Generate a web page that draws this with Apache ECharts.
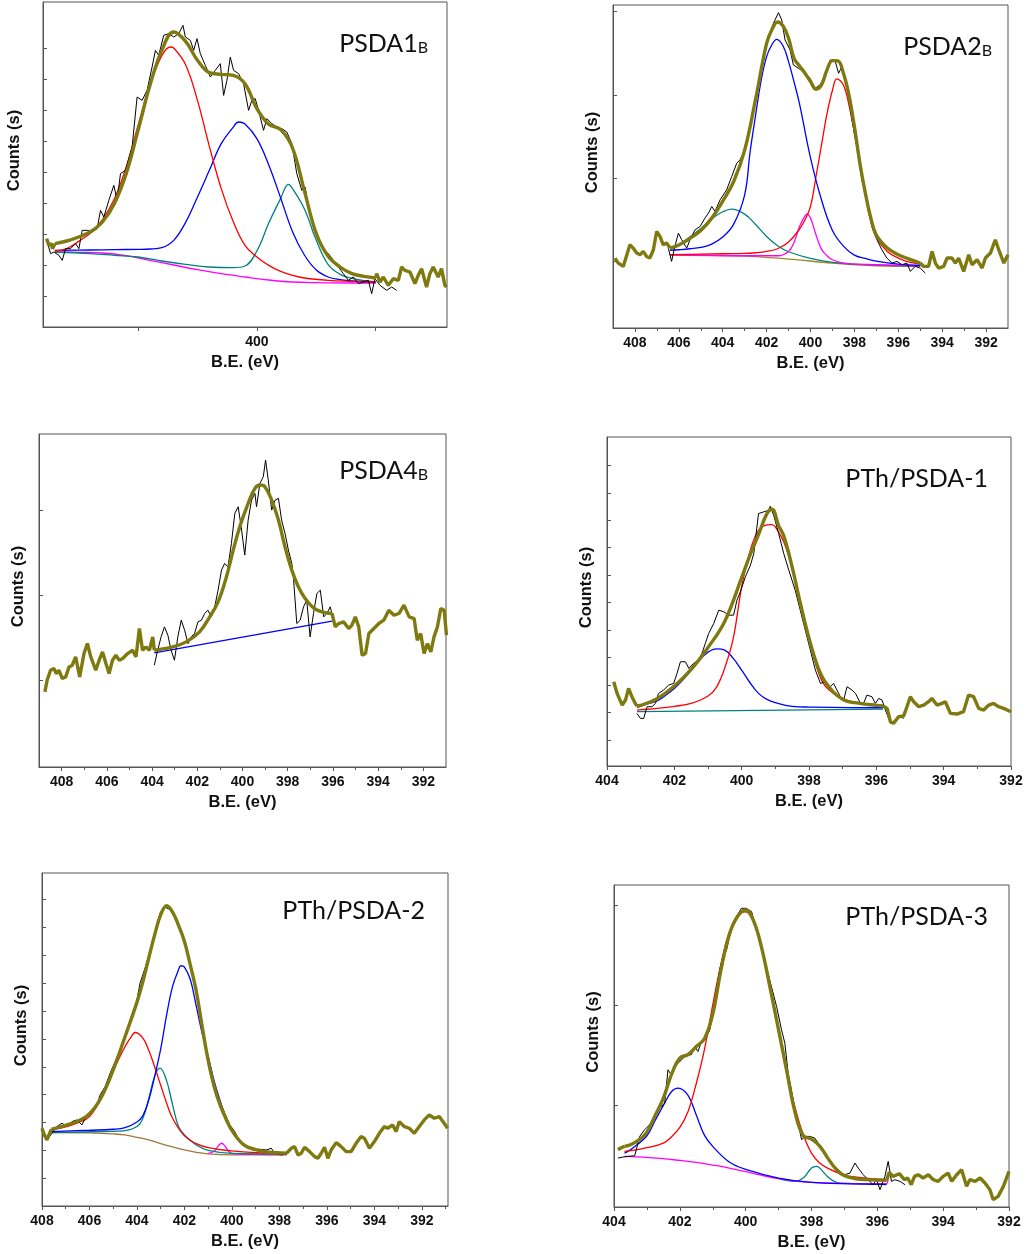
<!DOCTYPE html>
<html>
<head>
<meta charset="utf-8">
<script src="https://cdn.jsdelivr.net/npm/echarts@6/dist/echarts.min.js"></script>
<style>
html, body { margin: 0; padding: 0; background: #fff; }
#main { width: 1027px; height: 1254px; }
</style>
</head>
<body>
<div id="main"></div>
<script>
// N 1s spectra, six samples. x = binding energy (eV), y = counts (arbitrary units)

// ---- PSDA1B ----
var p1Raw = [[408.82,25.5],[408.68,22.0],[408.54,22.5],[408.33,21.5],[408.19,20.0],[408.05,23.5],[407.84,23.5],[407.63,25.0],[407.49,23.5],[407.35,29.0],[407.14,29.0],[406.93,28.5],[406.72,29.5],[406.58,35.0],[406.44,33.0],[406.23,38.0],[406.02,42.5],[405.88,38.0],[405.74,46.0],[405.53,47.0],[405.25,54.0],[405.04,69.0],[404.83,68.0],[404.62,71.0],[404.41,78.0],[404.27,83.0],[404.13,81.5],[403.92,87.5],[403.71,88.0],[403.5,87.0],[403.29,88.0],[403.11,90.5],[403.01,87.0],[402.8,86.0],[402.66,83.0],[402.52,86.5],[402.38,82.0],[402.17,78.5],[401.96,75.0],[401.75,77.0],[401.54,79.0],[401.4,69.5],[401.26,74.0],[401.12,81.0],[400.98,77.0],[400.77,76.0],[400.56,73.0],[400.35,65.0],[400.21,68.0],[400.07,68.5],[399.93,65.0],[399.72,59.0],[399.58,62.5],[399.37,61.0],[399.16,60.0],[398.95,59.5],[398.74,58.5],[398.53,55.0],[398.32,46.0],[398.11,41.0],[397.97,42.0],[397.83,36.0],[397.62,30.0],[397.41,26.0],[397.2,23.0],[396.99,22.0],[396.78,20.0],[396.57,18.0],[396.36,16.0],[396.15,14.0],[395.94,15.0],[395.73,13.0],[395.52,13.5],[395.31,14.0],[395.17,10.0],[395.03,14.5],[394.82,12.5],[394.54,11.0],[394.33,12.0],[394.12,11.0]];
var p1Env = [[408.5,25.0],[408,25.8],[407.5,27.0],[407,28.6],[406.5,31.5],[406,37.0],[405.5,46.0],[405,59.0],[404.5,72.5],[404,83.0],[403.5,88.5],[403,85.7],[402.5,80.0],[402,76.3],[401.5,75.8],[401,75.5],[400.5,73.0],[400,65.5],[399.5,60.8],[399,59.2],[398.5,53.7],[398,40.8],[397.5,28.0],[397,21.2],[396.5,18.0],[396,16.0],[395.5,15.2],[395,14.7]];
var p1TailL = [[408.85,26.5],[408.75,24.5],[408.65,25.0],[408.6,23.5],[408.5,25.0]];
var p1TailR = [[395,14.7],[394.96,16.0],[394.82,13.5],[394.68,15.0],[394.47,12.5],[394.26,14.5],[394.05,14.0],[393.91,18.0],[393.77,17.0],[393.56,16.5],[393.35,13.0],[393.21,15.5],[393.07,17.5],[392.86,12.0],[392.72,16.0],[392.58,18.0],[392.37,15.0],[392.23,17.5],[392.09,12.5],[392.02,12.0]];
var p1Red = [[408.5,22.8],[408,23.5],[407.5,25.7],[407,28.2],[406.5,32.2],[406,38.4],[405.5,48.0],[405,60.5],[404.5,72.5],[404,81.4],[403.64,84.0],[403.5,83.7],[403,78.7],[402.5,68.0],[402,54.2],[401.5,41.5],[401,31.7],[400.5,24.5],[400,21.0],[399.5,18.5],[399,16.7],[398.5,15.5],[398,14.7],[397,14.0],[396,13.7],[395,13.5]];
var p1Blue = [[408.5,23.0],[407,23.1],[406,23.2],[405,23.3],[404.5,23.4],[404,23.8],[403.5,26.0],[403,31.4],[402.5,39.0],[402,47.0],[401.5,55.0],[401,59.9],[400.77,61.5],[400.5,60.9],[400,56.5],[399.5,48.6],[399,38.7],[398.5,28.6],[398,21.6],[397.5,17.1],[397,15.0],[396.5,14.2],[396,13.8],[395,13.5]];
var p1Teal = [[408.5,22.5],[407,22.0],[406,21.5],[405,21.0],[404,19.8],[403,18.8],[402,18.0],[401,17.8],[400.5,18.3],[400,22.8],[399.5,31.2],[399,38.6],[398.67,42.8],[398.5,41.5],[398,35.4],[397.5,26.0],[397,18.7],[396.5,15.8],[396,14.6],[395,13.5]];
var p1Mag = [[408.5,22.5],[407.5,22.4],[406.5,22.2],[405.5,21.4],[404.5,20.0],[403.5,18.6],[402.5,17.2],[401.5,16.0],[400.5,15.0],[399.5,14.1],[398.5,13.5],[397.5,13.3],[396,13.2],[395,13.2]];

// ---- PSDA2B ----
var p2Raw = [[406.48,24.0],[406.33,20.0],[406.18,24.5],[406.02,28.5],[405.87,26.5],[405.64,24.0],[405.49,26.5],[405.26,29.5],[405.03,30.5],[404.81,33.0],[404.65,34.5],[404.5,36.5],[404.35,35.0],[404.12,38.5],[403.82,41.5],[403.59,45.5],[403.36,49.5],[403.21,50.5],[403.06,52.5],[402.83,58.5],[402.6,65.5],[402.37,73.5],[402.15,80.5],[401.92,87.5],[401.69,91.5],[401.46,94.7],[401.31,92.5],[401.16,86.5],[400.93,83.5],[400.78,79.0],[400.55,78.0],[400.32,77.0],[400.02,75.0],[399.79,72.0],[399.56,73.0],[399.33,76.0],[399.1,80.5],[398.87,80.0],[398.72,76.5],[398.57,78.5],[398.34,72.5],[398.11,62.5],[397.89,54.5],[397.66,44.5],[397.43,38.5],[397.2,30.5],[396.97,26.5],[396.75,23.5],[396.52,21.0],[396.29,19.5],[396.06,20.0],[395.83,19.0],[395.61,19.5],[395.45,17.0],[395.23,18.5],[395.0,18.0],[394.77,16.5]];
var p2Env = [[406.4,24.0],[406,24.9],[405.5,26.9],[405,29.3],[404.5,33.0],[404,38.1],[403.5,44.0],[403,53.4],[402.5,68.8],[402,85.5],[401.75,89.7],[401.5,91.9],[401.25,90.7],[401,87.0],[400.75,81.0],[400.5,78.7],[400.25,76.5],[400,74.0],[399.75,71.7],[399.5,73.0],[399.25,77.5],[399,80.3],[398.75,80.2],[398.5,76.5],[398.25,70.0],[398,60.5],[397.75,49.5],[397.5,40.5],[397.25,33.0],[397,27.9],[396.5,24.0],[396,22.0],[395.5,20.7],[395,19.5]];
var p2TailL = [[408.91,21.0],[408.76,19.5],[408.53,18.5],[408.23,25.0],[408.08,24.0],[407.92,22.5],[407.77,22.0],[407.62,23.0],[407.47,21.5],[407.32,21.0],[407.16,23.5],[407.01,29.0],[406.86,27.5],[406.71,25.0],[406.56,25.5],[406.4,24.0]];
var p2TailR = [[395.0,19.5],[394.84,18.5],[394.62,18.5],[394.46,23.0],[394.31,19.5],[394.16,18.0],[393.93,18.5],[393.78,21.0],[393.55,21.0],[393.4,19.5],[393.25,21.0],[393.02,17.0],[392.79,22.0],[392.64,19.0],[392.41,20.5],[392.18,18.0],[392.03,21.0],[391.8,22.5],[391.58,26.5],[391.42,23.5],[391.19,19.5],[391.0,22.0]];
var p2Blue = [[406.4,23.3],[406,23.5],[405.5,23.8],[405,24.2],[404.5,25.2],[404,27.3],[403.5,31.2],[403,40.0],[402.75,53.0],[402.5,64.0],[402.25,74.3],[402,81.5],[401.75,85.2],[401.54,86.7],[401.25,84.7],[401,80.0],[400.75,73.9],[400.5,67.3],[400,51.1],[399.5,38.5],[399,29.3],[398.5,24.6],[398,21.9],[397.5,20.9],[397,20.1],[396,19.2],[395,18.8]];
var p2Red = [[406.4,22.0],[405,22.2],[404,22.3],[403,22.4],[402.5,22.6],[402,23.0],[401.5,23.8],[401,25.8],[400.5,29.7],[400.25,32.5],[400,36.5],[399.75,45.5],[399.5,54.9],[399.25,64.3],[399,71.4],[398.8,74.8],[398.5,73.0],[398.25,67.0],[398,58.6],[397.75,49.1],[397.5,40.0],[397.25,31.9],[397,27.1],[396.5,23.0],[396,21.0],[395.5,19.8],[395,19.2]];
var p2Mag = [[406.4,22.0],[403,21.7],[401.5,21.7],[401,23.0],[400.75,25.7],[400.5,30.5],[400.25,33.7],[400.15,34.2],[400,33.0],[399.75,28.0],[399.5,23.7],[399.25,21.7],[399,20.5],[398.5,19.5],[397,19.0],[395,18.7]];
var p2Teal = [[406.4,23.5],[406,25.0],[405.5,27.3],[405,29.9],[404.5,32.8],[404,34.9],[403.6,35.7],[403,34.2],[402.5,31.1],[402,27.5],[401.5,24.7],[401,22.9],[400,20.9],[399,19.7],[398,19.2],[396.5,18.8],[395,18.7]];
var p2Base = [[406.4,22.0],[403,21.6],[401,20.7],[399,19.5],[397,18.7],[395,18.5]];

// ---- PSDA4B ----
var p3Raw = [[403.9,30.5],[403.75,35.0],[403.6,39.0],[403.45,42.0],[403.3,39.5],[403.16,35.0],[403.01,32.0],[402.86,39.0],[402.71,44.0],[402.56,41.0],[402.41,37.0],[402.27,39.0],[402.12,40.0],[401.97,43.5],[401.82,44.0],[401.67,46.0],[401.53,47.0],[401.38,45.0],[401.23,48.0],[401.08,53.0],[400.93,59.0],[400.79,61.0],[400.64,60.0],[400.49,67.0],[400.34,76.0],[400.19,78.0],[400.04,71.0],[399.9,63.5],[399.75,74.0],[399.6,80.0],[399.45,82.0],[399.38,78.0],[399.23,85.0],[399.08,87.0],[398.98,92.0],[398.86,86.0],[398.71,77.0],[398.56,80.0],[398.41,80.5],[398.27,74.0],[398.12,70.0],[397.97,65.0],[397.82,61.0],[397.75,57.0],[397.6,43.0],[397.45,44.0],[397.3,48.0],[397.16,50.0],[397.01,39.0],[396.86,46.0],[396.71,52.0],[396.56,53.0],[396.41,45.0],[396.27,46.0],[396.12,48.0],[395.97,44.0]];
var p3Env = [[403.9,35.0],[403.08,36.0],[402.49,37.5],[401.9,40.5],[401.45,45.0],[401.08,49.5],[400.71,57.0],[400.41,65.0],[400.12,72.0],[399.75,79.0],[399.45,83.5],[399.23,84.5],[399.01,84.0],[398.71,80.0],[398.41,74.0],[398.12,66.0],[397.82,59.0],[397.53,54.0],[397.23,50.5],[396.86,47.7],[396.49,46.5],[396.04,46.0]];
var p3TailL = [[408.74,22.5],[408.64,26.0],[408.49,29.0],[408.34,29.5],[408.24,28.0],[408.12,29.0],[407.97,26.5],[407.82,27.0],[407.67,30.0],[407.53,30.5],[407.38,33.0],[407.2,27.0],[407.01,34.0],[406.86,37.0],[406.71,33.0],[406.49,29.0],[406.34,32.0],[406.19,34.5],[406.04,31.0],[405.9,28.0],[405.75,32.0],[405.6,33.5],[405.45,32.0],[405.3,32.5],[405.08,34.0],[404.86,35.0],[404.71,33.0],[404.56,41.5],[404.42,35.0],[404.27,36.0],[404.12,35.0],[403.97,39.0],[403.9,35.0]];
var p3TailR = [[396.04,46.0],[395.9,42.0],[395.75,43.0],[395.53,43.5],[395.3,41.5],[395.16,42.5],[395.01,45.0],[394.86,42.0],[394.71,33.5],[394.56,34.0],[394.41,40.0],[394.19,41.5],[393.97,43.0],[393.75,44.0],[393.53,47.0],[393.3,45.5],[393.08,46.0],[392.86,48.5],[392.63,45.0],[392.41,44.5],[392.27,38.0],[392.12,40.0],[391.97,34.0],[391.82,37.0],[391.67,34.5],[391.53,39.0],[391.38,42.0],[391.23,47.5],[391.08,47.0],[390.98,39.5]];
var p3Base = [[403.9,34.2],[396.04,43.7]];

// ---- PTh/PSDA-1 ----
var p4Raw = [[403.11,15.8],[403.01,14.3],[402.91,14.3],[402.81,17.8],[402.66,17.8],[402.56,18.8],[402.47,21.8],[402.32,22.8],[402.17,24.3],[402.02,24.8],[401.92,27.8],[401.82,31.3],[401.67,31.3],[401.57,29.3],[401.43,30.8],[401.28,31.8],[401.18,33.8],[401.08,36.8],[400.98,39.8],[400.83,42.8],[400.68,46.8],[400.53,46.3],[400.39,45.3],[400.24,45.3],[400.14,49.8],[400.04,52.3],[399.89,56.8],[399.74,60.3],[399.64,63.8],[399.5,75.8],[399.35,76.3],[399.2,76.8],[399.15,78.0],[399.05,75.3],[398.9,69.8],[398.75,63.8],[398.6,58.8],[398.41,52.8],[398.26,46.8],[398.11,40.8],[397.96,34.8],[397.81,28.8],[397.66,24.8],[397.52,25.3],[397.37,23.8],[397.27,24.8],[397.17,22.8],[397.07,20.8],[396.97,19.8],[396.87,23.8],[396.72,22.8],[396.62,21.8],[396.47,18.8],[396.38,18.8],[396.28,21.3],[396.13,20.8],[396.03,18.8],[395.93,20.3],[395.83,19.8],[395.73,16.8],[395.58,12.8],[395.44,13.8],[395.29,14.8],[395.19,14.3]];
var p4Env = [[403.11,18.0],[403,18.2],[402.5,20.3],[402,24.0],[401.5,29.0],[401,35.6],[400.5,43.5],[400,56.6],[399.75,63.4],[399.5,69.5],[399.25,75.8],[399.1,77.1],[398.9,72.1],[398.75,69.1],[398.5,59.7],[398.25,48.6],[398,38.4],[397.75,30.1],[397.5,25.0],[397,20.0],[396.5,18.8],[396,18.2],[395.8,18.0]];
var p4TailL = [[403.8,25.3],[403.7,21.8],[403.55,18.3],[403.45,19.8],[403.36,23.3],[403.26,20.8],[403.16,18.8],[403.11,18.0]];
var p4TailR = [[395.8,18.0],[395.68,17.3],[395.58,13.3],[395.49,12.8],[395.34,14.8],[395.19,15.0],[395.09,17.8],[394.99,20.8],[394.89,19.3],[394.74,17.8],[394.59,18.3],[394.45,19.3],[394.35,20.3],[394.2,18.3],[394.05,18.8],[393.95,19.3],[393.8,15.8],[393.6,15.6],[393.41,16.3],[393.26,21.3],[393.11,20.8],[392.96,17.3],[392.81,16.8],[392.66,18.3],[392.52,18.8],[392.37,17.8],[392.22,17.3],[392.0,16.3]];
var p4Red = [[403.11,16.8],[403,16.9],[402.5,17.3],[402,17.9],[401.5,18.8],[401,21.0],[400.75,23.6],[400.5,29.5],[400.25,38.3],[400,53.8],[399.75,64.6],[399.5,70.8],[399.25,72.4],[399.1,72.5],[399,71.8],[398.75,67.3],[398.5,59.6],[398.25,48.3],[398,38.8],[397.75,29.0],[397.5,23.8],[397,20.3],[396.5,18.8],[396,18.2],[395.8,18.0]];
var p4Blue = [[403.11,17.6],[402.75,18.8],[402.5,19.6],[402.25,21.3],[402,23.3],[401.75,25.8],[401.5,28.8],[401.25,31.8],[401,34.2],[400.75,35.2],[400.5,34.8],[400.25,32.3],[400,28.8],[399.75,25.0],[399.5,21.8],[399.25,20.0],[399,19.0],[398.5,17.9],[398,17.7],[396,17.5],[395.8,17.5]];
var p4Base = [[403.11,16.3],[395.8,17.1]];

// ---- PTh/PSDA-2 ----
var p5Raw = [[407.93,20.8],[407.79,19.8],[407.58,21.8],[407.37,23.8],[407.16,24.8],[406.95,23.8],[406.74,25.3],[406.53,25.8],[406.32,24.3],[406.11,27.3],[405.9,28.8],[405.69,30.3],[405.55,33.3],[405.34,35.8],[405.13,39.8],[404.92,43.3],[404.71,46.8],[404.5,50.3],[404.29,54.8],[404.08,58.8],[403.87,66.8],[403.66,71.3],[403.45,76.3],[403.24,80.8],[403.03,87.8],[402.82,89.6],[402.61,88.8],[402.4,86.8],[402.19,82.8],[401.98,78.8],[401.77,72.3],[401.56,66.3],[401.35,57.8],[401.14,49.3],[400.93,40.8],[400.72,34.8],[400.51,31.3],[400.3,27.8],[400.09,24.3],[399.88,22.3],[399.67,19.3],[399.39,17.8],[399.11,16.8],[398.83,17.0],[398.55,16.8],[398.34,17.3],[398.2,15.8],[397.92,15.3],[397.71,15.6]];
var p5Env = [[407.6,23.0],[407.5,23.2],[407,24.2],[406.5,25.4],[406,27.6],[405.5,32.6],[405,40.8],[404.5,50.8],[404,61.1],[403.75,67.3],[403.5,74.4],[403.25,81.4],[403,87.3],[402.75,90.0],[402.5,88.1],[402.25,84.1],[402,79.3],[401.75,72.1],[401.5,64.3],[401.25,53.6],[401,43.6],[400.75,35.8],[400.5,30.3],[400.25,26.1],[400,22.6],[399.5,18.3],[399,16.9],[398.5,16.2],[397.7,15.8]];
var p5TailL = [[408.0,23.3],[407.93,21.8],[407.79,19.8],[407.65,22.3],[407.6,23.0]];
var p5TailR = [[397.7,15.8],[397.5,17.3],[397.36,17.8],[397.22,15.3],[397.08,15.8],[396.94,17.6],[396.73,16.3],[396.52,14.8],[396.38,14.3],[396.24,15.8],[396.1,17.6],[395.96,14.3],[395.82,16.8],[395.61,19.0],[395.4,17.8],[395.19,16.3],[394.98,16.3],[394.77,18.8],[394.56,20.8],[394.42,20.3],[394.21,17.3],[394.0,19.3],[393.79,21.8],[393.58,23.8],[393.44,23.3],[393.23,24.3],[393.09,22.3],[392.95,25.3],[392.74,23.8],[392.53,23.3],[392.32,21.8],[392.11,23.8],[391.9,25.8],[391.69,27.3],[391.48,26.3],[391.27,26.8],[391.06,24.8],[390.92,23.3]];
var p5Red = [[407.6,22.8],[407,23.7],[406.5,24.9],[406,26.8],[405.5,32.5],[405,40.5],[404.5,47.8],[404.25,50.6],[404.08,52.0],[403.75,50.3],[403.5,46.6],[403.25,41.6],[403,36.2],[402.75,30.8],[402.5,26.3],[402,21.0],[401.5,18.7],[401,17.5],[400,16.5],[399,16.0],[397.7,15.8]];
var p5Blue = [[407.6,22.3],[406,22.7],[405,23.0],[404.5,23.5],[404,25.2],[403.75,27.1],[403.5,31.8],[403.25,39.0],[403,47.1],[402.75,57.3],[402.5,65.8],[402.25,70.8],[402.15,72.0],[402,71.6],[401.75,67.8],[401.5,59.8],[401.25,51.6],[401,44.8],[400.75,37.5],[400.5,31.6],[400.25,26.2],[400,22.5],[399.5,18.6],[399,17.0],[398.5,16.3],[397.7,15.8]];
var p5Teal = [[407.6,22.0],[405,22.4],[404.5,22.6],[404,23.8],[403.75,26.3],[403.5,32.3],[403.25,39.0],[403.03,41.3],[402.75,37.5],[402.5,30.3],[402.25,23.8],[402,21.3],[401.5,18.3],[401,16.7],[400,15.8],[397.7,15.6]];
var p5Mag = [[401,15.8],[400.75,16.4],[400.55,18.2],[400.43,18.8],[400.3,18.0],[400.1,16.1],[399.9,15.6],[397.7,15.4]];
var p5Base = [[407.6,22.0],[406,21.9],[405,21.6],[404.5,21.3],[404,20.6],[403.5,19.8],[403,18.7],[402.5,17.7],[402,16.8],[401.5,16.1],[401,15.6],[400,15.3],[397.7,15.3]];

// ---- PTh/PSDA-3 ----
var p6Raw = [[403.88,14.7],[403.73,15.0],[403.57,15.2],[403.37,15.4],[403.22,21.2],[403.07,23.2],[402.92,24.7],[402.76,27.2],[402.61,29.7],[402.46,31.2],[402.36,41.2],[402.26,39.7],[402.1,42.7],[401.95,44.2],[401.8,45.7],[401.65,45.7],[401.55,48.2],[401.45,46.7],[401.34,49.7],[401.24,50.2],[401.09,53.2],[400.99,58.2],[400.89,65.2],[400.79,71.2],[400.69,75.2],[400.58,77.2],[400.48,81.7],[400.38,85.2],[400.28,87.2],[400.13,89.7],[399.98,89.7],[399.82,88.7],[399.67,83.2],[399.57,79.2],[399.42,74.2],[399.27,68.2],[399.06,60.2],[398.91,53.2],[398.81,49.2],[398.71,40.2],[398.61,35.2],[398.51,29.2],[398.41,25.2],[398.3,20.2],[398.2,21.2],[398.05,21.2],[397.9,20.7],[397.8,19.2],[397.7,17.7],[397.54,15.2],[397.39,13.2],[397.24,11.7],[397.09,10.2],[396.99,9.7],[396.83,10.2],[396.68,13.2],[396.58,11.7],[396.43,9.7],[396.28,8.2],[396.13,6.7],[396.02,8.2],[395.92,5.2],[395.77,9.2],[395.67,13.7],[395.57,7.7],[395.47,8.2],[395.31,7.7],[395.16,6.7]];
var p6Env = [[403.68,18.2],[403.5,18.7],[403.25,20.1],[403,22.5],[402.75,27.5],[402.5,32.7],[402.25,39.9],[402,44.7],[401.75,45.8],[401.5,48.2],[401.25,50.6],[401,57.9],[400.75,71.2],[400.5,81.7],[400.25,87.2],[400,89.2],[399.75,85.7],[399.5,77.2],[399.25,65.4],[399,53.2],[398.75,40.7],[398.5,28.4],[398.25,21.4],[398,20.4],[397.75,18.3],[397.5,14.6],[397.25,11.3],[397,9.4],[396.5,8.3],[396,8.1],[395.72,8.0]];
var p6TailL = [[403.88,17.2],[403.78,17.8],[403.68,18.2]];
var p6TailR = [[395.72,8.0],[395.64,10.4],[395.52,9.2],[395.33,10.0],[395.18,8.2],[395.08,8.7],[394.97,6.7],[394.87,9.2],[394.76,9.7],[394.61,8.7],[394.45,9.7],[394.3,8.2],[394.15,7.7],[394.0,9.2],[393.85,10.2],[393.74,7.7],[393.59,9.7],[393.44,11.2],[393.29,6.2],[393.19,8.2],[393.03,7.7],[392.88,8.7],[392.73,7.2],[392.58,5.2],[392.48,2.2],[392.33,3.2],[392.17,6.2],[392.0,10.7]];
var p6Red = [[403.68,16.7],[403.5,16.9],[403,17.8],[402.5,19.2],[402.25,21.1],[402,23.9],[401.75,28.7],[401.5,37.1],[401.25,47.4],[401,60.7],[400.75,73.0],[400.5,82.5],[400.25,87.6],[400,88.6],[399.75,85.4],[399.5,77.4],[399.25,65.9],[399,52.7],[398.75,40.5],[398.5,29.9],[398.25,21.7],[398,16.2],[397.75,13.2],[397.5,11.6],[397,9.6],[396.5,8.8],[396,8.4],[395.72,8.2]];
var p6Blue = [[403.68,16.2],[403.5,17.2],[403,21.4],[402.75,26.0],[402.5,30.5],[402.25,34.7],[402.05,35.7],[401.75,33.5],[401.5,27.6],[401.25,21.5],[401,18.2],[400.5,13.5],[400,11.3],[399,8.7],[398,7.4],[396,6.8],[395.72,6.7]];
var p6Teal = [[399,8.5],[398.5,7.7],[398.25,8.7],[398,11.7],[397.85,12.2],[397.75,11.7],[397.5,9.0],[397.25,7.4],[397,7.1],[395.72,7.0]];
var p6Mag = [[403.68,15.2],[403,14.9],[402,14.0],[401.5,13.4],[401,12.6],[400.5,11.7],[400,10.6],[399.5,9.5],[399,8.5],[398.5,7.8],[398,7.4],[397,7.1],[396,6.9],[395.72,7.0],[395.68,8.7]];

var OLIVE = '#7f7a10', RED = '#ff0000', BLUE = '#0000ff', TEAL = '#008080', MAG = '#ff00ff';

function range(a, b, s) { var r = []; for (var v = a; v <= b + 1e-9; v += s) r.push(v); return r; }

var panels = [
  { box: [43, 2, 404, 325], x: [392, 409], ymax: 97.5, yt: range(9.2, 84, 9.29),
    labels: [400], major: [395, 400, 405], minor: [], gap: 20, title: ['PSDA1', 'B'], tr: 433, tt: 25,
    lines: [[p1Mag, MAG], [p1Teal, TEAL], [p1Blue, BLUE], [p1Red, RED]],
    raw: p1Raw, env: p1Env, tails: [p1TailL, p1TailR] },
  { box: [613, 5, 395, 323], x: [391, 409], ymax: 97.0, yt: [20, 45, 70, 95],
    labels: range(392, 408, 2), major: range(392, 408, 2), minor: range(393, 407, 2), gap: 12, title: ['PSDA2', 'B'], tr: 997, tt: 28,
    lines: [[p2Base, '#9a8a2a'], [p2Teal, TEAL], [p2Mag, MAG], [p2Red, RED], [p2Blue, BLUE]],
    raw: p2Raw, env: p2Env, tails: [p2TailL, p2TailR] },
  { box: [39, 434, 407, 333], x: [391, 409], ymax: 99.8, yt: [26, 51.5, 77],
    labels: range(392, 408, 2), major: range(392, 408, 2), minor: range(393, 407, 2), gap: 12, title: ['PSDA4', 'B'], tr: 433, tt: 452,
    lines: [[p3Base, BLUE]],
    raw: p3Raw, env: p3Env, tails: [p3TailL, p3TailR] },
  { box: [607, 437, 404, 329], x: [392, 404], ymax: 98.8, yt: range(7.8, 91, 8.25),
    labels: range(392, 404, 2), major: range(392, 404, 2), minor: range(393, 403, 2), gap: 12, title: ['PTh/PSDA-1', ''], tr: 993, tt: 460,
    lines: [[p4Base, TEAL], [p4Blue, BLUE], [p4Red, RED]],
    raw: p4Raw, env: p4Env, tails: [p4TailL, p4TailR] },
  { box: [42, 873, 406, 333], x: [390.9, 408], ymax: 99.8, yt: range(8.3, 92, 8.35),
    labels: range(392, 408, 2), major: range(392, 408, 2), minor: range(391, 407, 2), gap: 12, title: ['PTh/PSDA-2', ''], tr: 430, tt: 892,
    lines: [[p5Base, '#a0783c'], [p5Mag, MAG], [p5Teal, TEAL], [p5Red, RED], [p5Blue, BLUE]],
    raw: p5Raw, env: p5Env, tails: [p5TailL, p5TailR] },
  { box: [614, 885, 395, 322], x: [392, 404], ymax: 96.7, yt: [30.7, 60.7, 90.7],
    labels: range(392, 404, 2), major: range(392, 404, 2), minor: range(393, 403, 2), gap: 12, title: ['PTh/PSDA-3', ''], tr: 993, tt: 898,
    lines: [[p6Teal, TEAL], [p6Mag, MAG], [p6Blue, BLUE], [p6Red, RED]],
    raw: p6Raw, env: p6Env, tails: [p6TailL, p6TailR] }
];

var AX = '#555';

var grids = [], xAxes = [], yAxes = [], series = [], titles = [];
panels.forEach(function (p, i) {
  grids.push({ left: p.box[0], top: p.box[1], width: p.box[2], height: p.box[3],
    show: true, borderColor: AX, borderWidth: 1, containLabel: false });
  // main x axis: labels + major ticks
  xAxes.push({
    type: 'value', gridIndex: i, position: 'bottom', inverse: true, min: p.x[0], max: p.x[1],
    axisLine: { show: true, lineStyle: { color: AX, width: 1 } },
    axisTick: { show: true, inside: false, length: 4, customValues: p.major, lineStyle: { color: AX } },
    axisLabel: { customValues: p.labels, margin: 8, fontSize: 14, fontFamily: 'Liberation Sans', fontWeight: 'bold', color: '#111',
      formatter: function (v) { return String(Math.round(v)); } },
    splitLine: { show: false },
    name: 'B.E. (eV)', nameLocation: 'middle', nameGap: 27,
    nameTextStyle: { fontSize: 16.5, fontFamily: 'Liberation Sans', fontWeight: 'bold', color: '#111' }
  });
  // minor ticks, same side
  xAxes.push({
    type: 'value', gridIndex: i, position: 'bottom', inverse: true, min: p.x[0], max: p.x[1],
    axisLine: { show: false },
    axisTick: { show: p.minor.length > 0, inside: false, length: 3, customValues: p.minor, lineStyle: { color: AX } },
    axisLabel: { show: false }, splitLine: { show: false }
  });
  yAxes.push({
    type: 'value', gridIndex: i, min: 0, max: p.ymax,
    axisLine: { show: true, lineStyle: { color: AX, width: 1 } },
    axisTick: { show: true, inside: true, length: 4, customValues: p.yt, lineStyle: { color: AX } },
    axisLabel: { show: false }, splitLine: { show: false },
    name: 'Counts (s)', nameLocation: 'middle', nameRotate: 90, nameGap: p.gap,
    nameTextStyle: { fontSize: 16.5, fontFamily: 'Liberation Sans', fontWeight: 'bold', color: '#111',
      padding: [0, 0, 0, 28] }
  });

  function line(data, color, width, smooth, z) {
    return { type: 'line', xAxisIndex: 2 * i, yAxisIndex: i, data: data, symbol: 'none', showSymbol: false,
      smooth: smooth, lineStyle: { color: color, width: width }, z: z, silent: true, animation: false };
  }
  p.lines.forEach(function (l, k) { series.push(line(l[0], l[1], 1.3, 0.4, 2 + k * 0.01)); });
  series.push(line(p.raw, '#000', 1, false, 3));
  series.push(line(p.env, OLIVE, 3.4, 0.4, 4));
  p.tails.forEach(function (t) { series.push(line(t, OLIVE, 3.4, false, 4)); });

  titles.push({
    text: p.title[1] ? '{m|' + p.title[0] + '}{s|' + p.title[1] + '}' : '{m|' + p.title[0] + '}',
    right: 1027 - p.tr, top: p.tt,
    textStyle: { fontWeight: 'normal', rich: {
      m: { fontFamily: 'Lato', fontWeight: 'normal', fontSize: 25, lineHeight: 26, color: '#111', verticalAlign: 'bottom' },
      s: { fontFamily: 'Lato', fontWeight: 'normal', fontSize: 16, lineHeight: 17, color: '#111', verticalAlign: 'bottom' }
    } }
  });
});

var myChart = echarts.init(document.getElementById('main'), null, { renderer: 'canvas' });
myChart.setOption({
  backgroundColor: '#fff',
  animation: false,
  title: titles,
  grid: grids,
  xAxis: xAxes,
  yAxis: yAxes,
  series: series
});
</script>
</body>
</html>
